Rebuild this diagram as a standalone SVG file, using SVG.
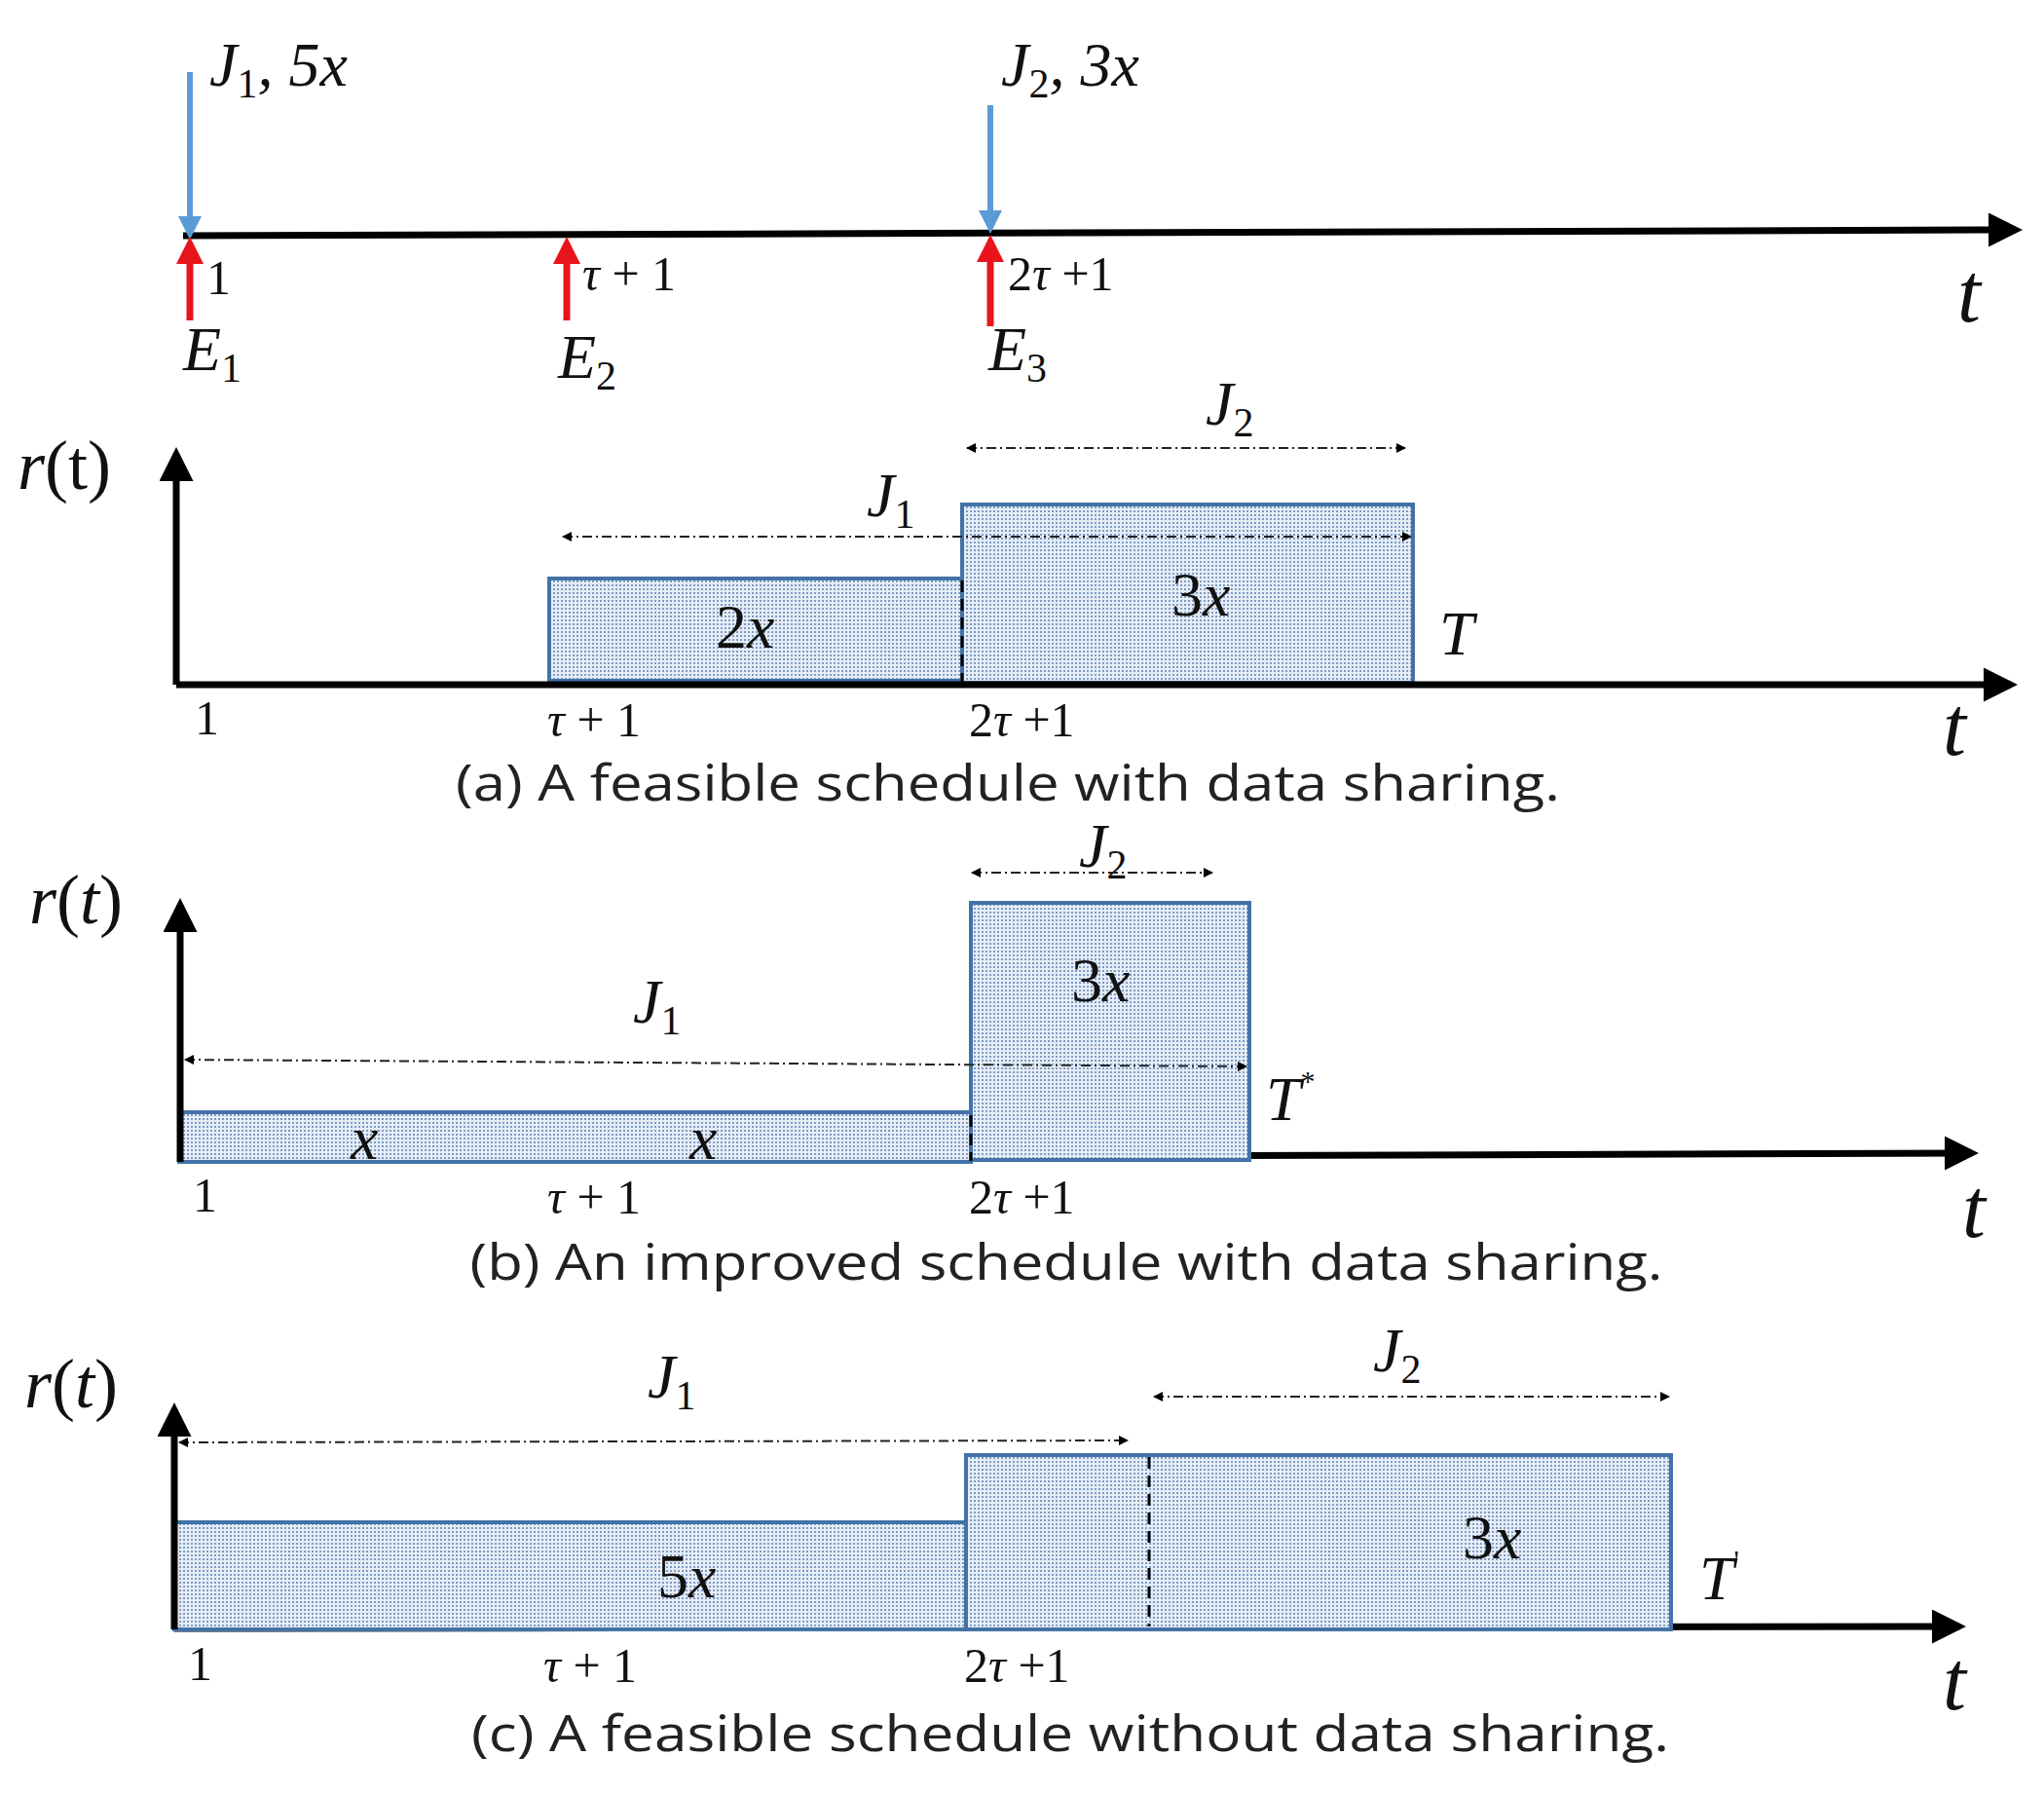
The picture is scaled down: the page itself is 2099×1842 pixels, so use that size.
<svg xmlns="http://www.w3.org/2000/svg" width="2099" height="1842" viewBox="0 0 2099 1842">
<style>
.m{font-family:"Liberation Serif",serif;font-style:italic;fill:#111}
.n{font-family:"Liberation Serif",serif;font-style:normal;fill:#111}
.big{font-size:64px}
.tk{font-size:50px}
.tt{font-size:86px}
.cap{font-family:"Open Sans","Liberation Sans",sans-serif;font-size:52px;fill:#222}
.ax{stroke:#000;stroke-width:7;fill:none}
.bar{fill:url(#dots);stroke:#4472a8;stroke-width:4}
.dd{stroke:#222;stroke-width:2;stroke-dasharray:10 4 2 4;fill:none}
.vd{stroke:#000;stroke-width:3;stroke-dasharray:12 7}
</style>
<defs>
<pattern id="dots" width="4" height="4" patternUnits="userSpaceOnUse">
<rect width="4" height="4" fill="#e6edf6"/><rect width="2" height="2" fill="#7d9cc4"/>
</pattern>
<marker id="ah" markerWidth="5" markerHeight="5" refX="4" refY="2.5" orient="auto" markerUnits="strokeWidth"><path d="M0,0 L5,2.5 L0,5 Z" fill="#000"/></marker>
<marker id="ad" markerWidth="10" markerHeight="10" refX="9" refY="5" orient="auto-start-reverse" markerUnits="userSpaceOnUse"><path d="M0,0 L10,5 L0,10 Z" fill="#000"/></marker>
<marker id="ab" markerWidth="4" markerHeight="4" refX="3" refY="2" orient="auto" markerUnits="strokeWidth"><path d="M0,0 L4,2 L0,4 Z" fill="#5b9bd5"/></marker>
<marker id="ar" markerWidth="4" markerHeight="4" refX="3" refY="2" orient="auto" markerUnits="strokeWidth"><path d="M0,0 L4,2 L0,4 Z" fill="#e8141b"/></marker>
</defs>

<g id="timeline">
<line class="ax" x1="188" y1="242" x2="2070" y2="236" marker-end="url(#ah)"/>
<line x1="195" y1="74" x2="195" y2="240" stroke="#5b9bd5" stroke-width="6" marker-end="url(#ab)"/>
<line x1="1017" y1="108" x2="1017" y2="234" stroke="#5b9bd5" stroke-width="6" marker-end="url(#ab)"/>
<line x1="195" y1="329" x2="195" y2="250" stroke="#e8141b" stroke-width="7" marker-end="url(#ar)"/>
<line x1="582" y1="329" x2="582" y2="250" stroke="#e8141b" stroke-width="7" marker-end="url(#ar)"/>
<line x1="1017" y1="335" x2="1017" y2="248" stroke="#e8141b" stroke-width="7" marker-end="url(#ar)"/>
<text class="m big" x="215" y="88">J<tspan class="n" font-size="42" dy="12">1</tspan><tspan dy="-12">, 5x</tspan></text>
<text class="m big" x="1028" y="88">J<tspan class="n" font-size="42" dy="12">2</tspan><tspan dy="-12">, 3x</tspan></text>
<text class="n tk" x="212" y="302">1</text>
<text class="n tk" x="598" y="298"><tspan class="m">τ</tspan> + 1</text>
<text class="n tk" x="1035" y="298">2<tspan class="m">τ</tspan> +1</text>
<text class="m big" x="188" y="380">E<tspan class="n" font-size="42" dy="12">1</tspan></text>
<text class="m big" x="573" y="388">E<tspan class="n" font-size="42" dy="12">2</tspan></text>
<text class="m big" x="1015" y="380">E<tspan class="n" font-size="42" dy="12">3</tspan></text>
<text class="m tt" x="2010" y="330">t</text>
</g>

<g id="panel-a">
<rect class="bar" x="564" y="594" width="424" height="105"/>
<rect class="bar" x="988" y="518" width="463" height="183"/>
<line class="vd" x1="988" y1="596" x2="988" y2="700"/>
<line class="ax" x1="181" y1="703" x2="181" y2="466" marker-end="url(#ah)"/>
<line class="ax" x1="181" y1="703" x2="2065" y2="703" marker-end="url(#ah)"/>
<text class="m" font-size="72" x="18" y="502">r<tspan class="n">(t)</tspan></text>
<text class="n big" x="735" y="665">2<tspan class="m">x</tspan></text>
<text class="n big" x="1203" y="632">3<tspan class="m">x</tspan></text>
<text class="m big" x="1478" y="672">T</text>
<line class="dd" x1="578" y1="551" x2="1449" y2="551" marker-start="url(#ad)" marker-end="url(#ad)"/>
<line class="dd" x1="993" y1="460" x2="1443" y2="460" marker-start="url(#ad)" marker-end="url(#ad)"/>
<text class="m big" x="890" y="530">J<tspan class="n" font-size="42" dy="12">1</tspan></text>
<text class="m big" x="1238" y="436">J<tspan class="n" font-size="42" dy="12">2</tspan></text>
<text class="n tk" x="200" y="754">1</text>
<text class="n tk" x="562" y="756"><tspan class="m">τ</tspan> + 1</text>
<text class="n tk" x="995" y="756">2<tspan class="m">τ</tspan> +1</text>
<text class="m tt" x="1995" y="775">t</text>
<text class="cap" x="1035" y="822" text-anchor="middle" textLength="1134" lengthAdjust="spacingAndGlyphs">(a) A feasible schedule with data sharing.</text>
</g>

<g id="panel-b">
<line class="ax" x1="185" y1="1190" x2="2025" y2="1184" marker-end="url(#ah)"/>
<rect class="bar" x="184" y="1142" width="813" height="51"/>
<rect class="bar" x="997" y="927" width="286" height="264"/>
<line class="vd" x1="997" y1="1145" x2="997" y2="1192"/>
<line class="ax" x1="185" y1="1193" x2="185" y2="929" marker-end="url(#ah)"/>
<text class="m" font-size="72" x="30" y="948">r<tspan class="n">(</tspan>t<tspan class="n">)</tspan></text>
<text class="m big" x="360" y="1190">x</text>
<text class="m big" x="708" y="1190">x</text>
<text class="n big" x="1100" y="1028">3<tspan class="m">x</tspan></text>
<text class="m big" x="1300" y="1150">T<tspan class="n" font-size="30" dy="-30">*</tspan></text>
<line class="dd" x1="190" y1="1088" x2="1280" y2="1095" marker-start="url(#ad)" marker-end="url(#ad)"/>
<line class="dd" x1="998" y1="896" x2="1245" y2="896" marker-start="url(#ad)" marker-end="url(#ad)"/>
<text class="m big" x="650" y="1050">J<tspan class="n" font-size="42" dy="12">1</tspan></text>
<text class="m big" x="1108" y="890">J<tspan class="n" font-size="42" dy="12">2</tspan></text>
<text class="n tk" x="198" y="1244">1</text>
<text class="n tk" x="562" y="1246"><tspan class="m">τ</tspan> + 1</text>
<text class="n tk" x="995" y="1246">2<tspan class="m">τ</tspan> +1</text>
<text class="m tt" x="2015" y="1270">t</text>
<text class="cap" x="1095" y="1314" text-anchor="middle" textLength="1225" lengthAdjust="spacingAndGlyphs">(b) An improved schedule with data sharing.</text>
</g>

<g id="panel-c">
<line class="ax" x1="179" y1="1672" x2="2012" y2="1670" marker-end="url(#ah)"/>
<rect class="bar" x="179" y="1563" width="813" height="110"/>
<rect class="bar" x="992" y="1494" width="724" height="179"/>
<line class="vd" x1="1180" y1="1496" x2="1180" y2="1670"/>
<line class="ax" x1="179" y1="1673" x2="179" y2="1447" marker-end="url(#ah)"/>
<text class="m" font-size="72" x="25" y="1445">r<tspan class="n">(</tspan>t<tspan class="n">)</tspan></text>
<text class="n big" x="675" y="1640">5<tspan class="m">x</tspan></text>
<text class="n big" x="1502" y="1600">3<tspan class="m">x</tspan></text>
<text class="m big" x="1745" y="1642">T<tspan class="n" font-size="30" dy="-30">'</tspan></text>
<line class="dd" x1="184" y1="1481" x2="1158" y2="1479" marker-start="url(#ad)" marker-end="url(#ad)"/>
<line class="dd" x1="1185" y1="1434" x2="1714" y2="1434" marker-start="url(#ad)" marker-end="url(#ad)"/>
<text class="m big" x="665" y="1435">J<tspan class="n" font-size="42" dy="12">1</tspan></text>
<text class="m big" x="1410" y="1408">J<tspan class="n" font-size="42" dy="12">2</tspan></text>
<text class="n tk" x="193" y="1725">1</text>
<text class="n tk" x="558" y="1727"><tspan class="m">τ</tspan> + 1</text>
<text class="n tk" x="990" y="1727">2<tspan class="m">τ</tspan> +1</text>
<text class="m tt" x="1995" y="1755">t</text>
<text class="cap" x="1099" y="1798" text-anchor="middle" textLength="1230" lengthAdjust="spacingAndGlyphs">(c) A feasible schedule without data sharing.</text>
</g>
</svg>
